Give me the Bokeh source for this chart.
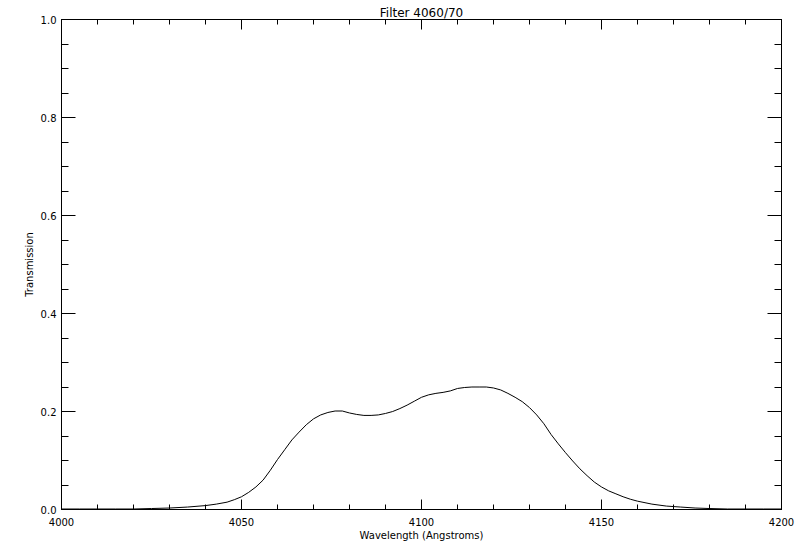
from bokeh.plotting import figure
from bokeh.models import Range1d, LinearAxis, SingleIntervalTicker, PrintfTickFormatter, CustomJSTickFormatter
from bokeh.embed import file_html
from bokeh.resources import INLINE

wavelength = [4000, 4005, 4010, 4015, 4020, 4025, 4030, 4035, 4040, 4043, 4046, 4048,
              4050, 4052, 4054, 4056, 4058, 4060, 4062, 4064, 4066, 4068, 4070, 4072,
              4074, 4076, 4078, 4080, 4082, 4084, 4086, 4088, 4090, 4092, 4094, 4096,
              4098, 4100, 4102, 4104, 4106, 4108, 4110, 4112, 4114, 4116, 4118, 4120,
              4122, 4124, 4126, 4128, 4130, 4132, 4134, 4136, 4138, 4140, 4142, 4144,
              4146, 4148, 4150, 4152, 4154, 4156, 4158, 4160, 4164, 4168, 4172, 4176,
              4180, 4185, 4190, 4195, 4200]
transmission = [0.001, 0.001, 0.001, 0.001, 0.001, 0.002, 0.003, 0.005, 0.008, 0.011, 0.015, 0.020,
                0.026, 0.035, 0.046, 0.060, 0.080, 0.102, 0.122, 0.142, 0.158, 0.173, 0.185, 0.193,
                0.198, 0.201, 0.201, 0.197, 0.194, 0.192, 0.192, 0.193, 0.196, 0.200, 0.206, 0.213,
                0.221, 0.229, 0.234, 0.237, 0.239, 0.242, 0.247, 0.249, 0.250, 0.250, 0.250, 0.248,
                0.244, 0.237, 0.229, 0.220, 0.208, 0.193, 0.175, 0.153, 0.134, 0.116, 0.099, 0.083,
                0.069, 0.056, 0.046, 0.038, 0.032, 0.026, 0.021, 0.017, 0.011, 0.007, 0.005, 0.003,
                0.002, 0.001, 0.001, 0.001, 0.001]

title_text = "Filter 4060/70"
x_label = "Wavelength (Angstroms)"
y_label = "Transmission"

FONT = "DejaVu Sans"

p = figure(width=800, height=550, output_backend="svg", toolbar_location=None,
           x_range=Range1d(4000, 4200), y_range=Range1d(0, 1.0),
           min_border_left=61, min_border_right=19, min_border_top=19, min_border_bottom=41,
           x_axis_location=None, y_axis_location=None)
p.title.text = title_text
p.title.align = "center"
p.title.text_font = FONT
p.title.text_font_size = "12px"
p.title.text_font_style = "normal"
p.title.text_color = "black"
p.title.standoff = 0
p.title.offset = 0
p.xgrid.visible = False
p.ygrid.visible = False
p.outline_line_color = "black"
p.background_fill_color = "white"
p.border_fill_color = "white"

blank = CustomJSTickFormatter(code="return '';")


def style_common(ax, major, minor):
    ax.major_tick_in = major
    ax.major_tick_out = 0
    ax.minor_tick_in = minor
    ax.minor_tick_out = 0
    ax.axis_line_color = "black"
    ax.major_tick_line_color = "black"
    ax.minor_tick_line_color = "black"
    ax.major_label_text_color = "black"
    ax.axis_label_text_color = "black"


def make_x(show):
    ax = LinearAxis(ticker=SingleIntervalTicker(interval=50, num_minor_ticks=5))
    style_common(ax, 10, 5)
    if show:
        ax.major_label_text_font = FONT
        ax.major_label_text_font_size = "10px"
        ax.major_label_standoff = 8
        ax.axis_label = x_label
        ax.axis_label_text_font = FONT
        ax.axis_label_text_font_size = "10px"
        ax.axis_label_text_font_style = "normal"
        ax.axis_label_standoff = 1
    else:
        ax.formatter = blank
        ax.major_label_standoff = 0
    return ax


def make_y(show):
    ax = LinearAxis(ticker=SingleIntervalTicker(interval=0.2, num_minor_ticks=4))
    style_common(ax, 14, 7)
    if show:
        ax.formatter = PrintfTickFormatter(format="%.1f")
        ax.major_label_text_font = FONT
        ax.major_label_text_font_size = "10px"
        ax.major_label_standoff = 5
        ax.axis_label = y_label
        ax.axis_label_text_font = FONT
        ax.axis_label_text_font_size = "10px"
        ax.axis_label_text_font_style = "normal"
        ax.axis_label_standoff = 3
    else:
        ax.formatter = blank
        ax.major_label_standoff = 0
    return ax


p.add_layout(make_x(True), "below")
p.add_layout(make_x(False), "above")
p.add_layout(make_y(True), "left")
p.add_layout(make_y(False), "right")

p.line(wavelength, transmission, line_color="black", line_width=1)

open("out.html", "w").write(file_html(p, INLINE))
